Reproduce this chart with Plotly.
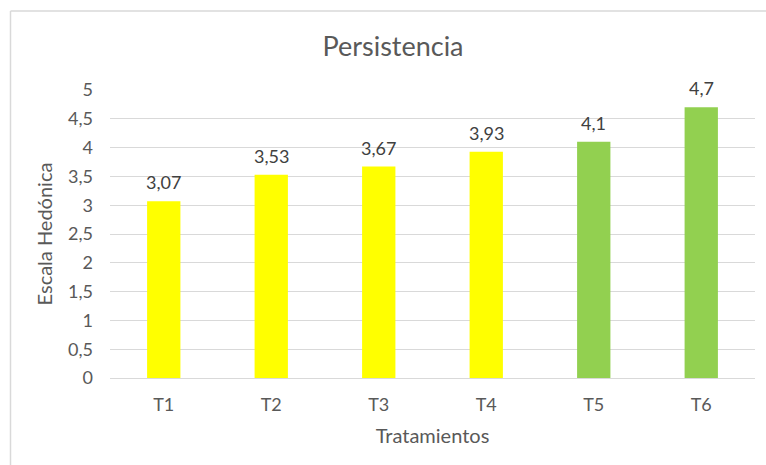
import plotly.graph_objects as go

# Datos del gráfico
tratamientos = ["T1", "T2", "T3", "T4", "T5", "T6"]
persistencia = [3.07, 3.53, 3.67, 3.93, 4.1, 4.7]
colores = ["#FFFF00", "#FFFF00", "#FFFF00", "#FFFF00", "#92D050", "#92D050"]
ticks_y = [0, 0.5, 1, 1.5, 2, 2.5, 3, 3.5, 4, 4.5, 5]
ticks_y_txt = ["0", "0,5", "1", "1,5", "2", "2,5", "3", "3,5", "4", "4,5", "5"]

FONT = "Lato, Open Sans, sans-serif"
GRIS = "#595959"

etiquetas = [f"{v:g}".replace(".", ",") for v in persistencia]

fig = go.Figure(
    go.Bar(
        x=tratamientos,
        y=persistencia,
        marker=dict(color=colores, line=dict(width=0)),
        width=0.31,
        hoverinfo="x+y",
    )
)

# Etiquetas de valor sobre cada barra
for cat, val, txt in zip(tratamientos, persistencia, etiquetas):
    fig.add_annotation(
        x=cat, y=val, text=txt, showarrow=False,
        yanchor="middle", yshift=19,
        font=dict(family=FONT, size=18, color="#404040"),
    )

# Marco del área del gráfico (borde gris claro)
L, T, W, H = 110, 90, 645, 288
def px_x(p):
    return (p - L) / W
def px_y(p):
    return (T + H - p) / H

fig.add_shape(type="line", xref="paper", yref="paper",
              x0=px_x(10.5), x1=px_x(800), y0=px_y(11), y1=px_y(11),
              line=dict(color="#D9D9D9", width=1.5))
fig.add_shape(type="line", xref="paper", yref="paper",
              x0=px_x(10.5), x1=px_x(10.5), y0=px_y(11), y1=px_y(500),
              line=dict(color="#D9D9D9", width=1.5))

fig.update_layout(
    width=766,
    height=465,
    margin=dict(l=L, r=766 - L - W, t=T, b=465 - T - H),
    paper_bgcolor="white",
    plot_bgcolor="white",
    showlegend=False,
    title=dict(
        text="Persistencia",
        x=393 / 766, xanchor="center",
        y=1 - 47 / 465, yanchor="middle",
        font=dict(family=FONT, size=27, color=GRIS),
    ),
    font=dict(family=FONT, color=GRIS),
    xaxis=dict(
        showgrid=False,
        showline=True, linecolor="#D9D9D9", linewidth=1,
        ticks="", ticklabelstandoff=10,
        tickfont=dict(size=18, color=GRIS),
        title=dict(text="Tratamientos", font=dict(size=20, color=GRIS), standoff=15),
    ),
    yaxis=dict(
        range=[0, 5],
        tickvals=ticks_y, ticktext=ticks_y_txt,
        showgrid=True, gridcolor="#D9D9D9", gridwidth=1,
        zeroline=False, showline=False, ticks="",
        ticklabelstandoff=16,
        tickfont=dict(size=18, color=GRIS),
        title=dict(text="Escala Hedónica", font=dict(size=20, color=GRIS), standoff=10),
    ),
)

fig.write_html("out.html")
